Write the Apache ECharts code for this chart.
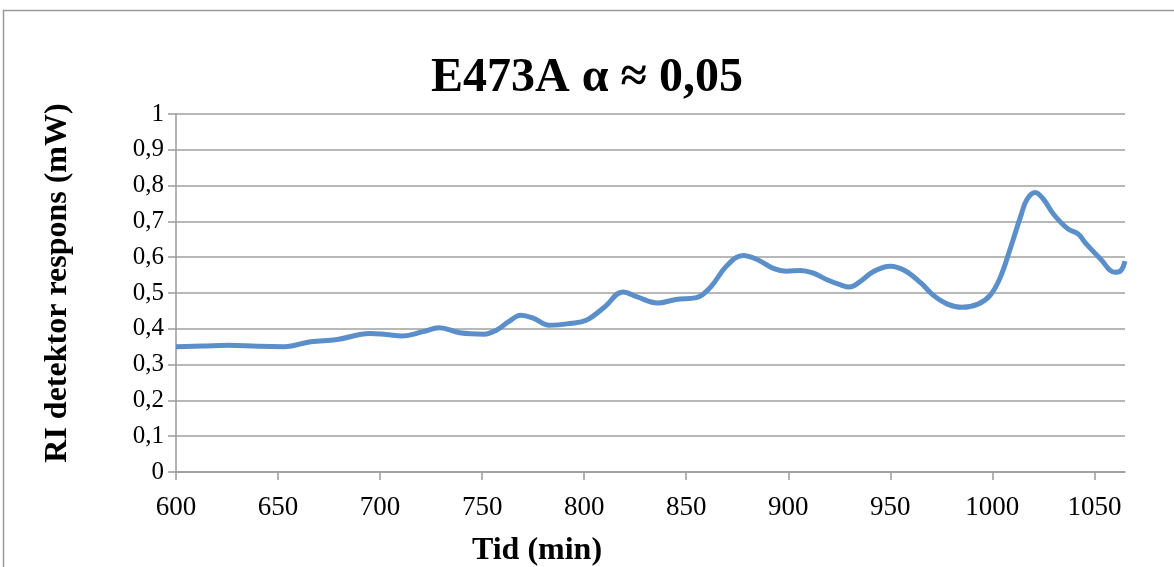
<!DOCTYPE html>
<html>
<head>
<meta charset="utf-8">
<script src="https://cdn.jsdelivr.net/npm/echarts@6/dist/echarts.min.js"></script>
<style>
html,body{margin:0;padding:0;background:#fff;}
#chart{width:1174px;height:567px;}
</style>
</head>
<body>
<div id="chart"></div>
<script>
const titleText = "E473A \u03b1 \u2248 0,05";
const xAxisName = "Tid (min)";
const yAxisName = "RI detektor respons (mW)";
const timeMin = [600, 613, 626, 640, 653, 666, 679, 695, 703, 711, 721, 729, 739, 751, 757, 763, 769, 775, 783, 793, 801, 810, 819, 826, 836, 845, 855, 862, 870, 878, 885, 893, 899, 906, 912, 919, 926, 930, 935, 942, 950, 957, 965, 971, 978, 985, 993, 999, 1004, 1009, 1014, 1017, 1021, 1025, 1030, 1037, 1042, 1046, 1053, 1060, 1063, 1065];
const response = [0.350, 0.352, 0.354, 0.351, 0.350, 0.364, 0.370, 0.387, 0.384, 0.380, 0.392, 0.403, 0.389, 0.385, 0.396, 0.420, 0.438, 0.430, 0.410, 0.415, 0.424, 0.461, 0.503, 0.489, 0.472, 0.482, 0.487, 0.517, 0.577, 0.605, 0.593, 0.568, 0.561, 0.563, 0.556, 0.537, 0.522, 0.517, 0.531, 0.561, 0.575, 0.563, 0.528, 0.494, 0.469, 0.460, 0.469, 0.494, 0.545, 0.628, 0.716, 0.762, 0.781, 0.762, 0.720, 0.679, 0.665, 0.637, 0.595, 0.558, 0.563, 0.589];

const seriesData = timeMin.map((t, i) => [t, response[i]]);
const serif = "Liberation Serif";
const chart = echarts.init(document.getElementById('chart'));
chart.setOption({
  animation: false,
  backgroundColor: '#ffffff',
  title: {
    text: titleText,
    left: 'center',
    top: 50,
    textStyle: {fontFamily: serif, fontSize: 48, fontWeight: 'bold', color: '#000'}
  },
  graphic: [{
    type: 'rect',
    shape: {x: 3.5, y: 10.5, width: 1300, height: 700},
    style: {fill: 'none', stroke: '#9a9a9a', lineWidth: 1.5},
    silent: true
  }, {
    type: 'text',
    x: 537, y: 551,
    style: {text: xAxisName, fontFamily: serif, fontSize: 32, fontWeight: 'bold', fill: '#000',
      align: 'center', verticalAlign: 'middle'},
    silent: true
  }, {
    type: 'text',
    x: 58, y: 283,
    rotation: Math.PI / 2,
    style: {text: yAxisName, fontFamily: serif, fontSize: 32, fontWeight: 'bold', fill: '#000',
      align: 'center', verticalAlign: 'middle'},
    silent: true
  }],
  grid: {left: 176, right: 49, top: 114, bottom: 95, containLabel: false},
  xAxis: {
    type: 'value',
    min: 600, max: 1065, interval: 50,
    axisLine: {show: true, lineStyle: {color: '#9a9a9a', width: 1.5}},
    axisTick: {show: true, inside: false, length: 8, lineStyle: {color: '#9a9a9a', width: 1.5}},
    axisLabel: {fontFamily: serif, fontSize: 27, color: '#000', margin: 22, showMaxLabel: false,
      formatter: v => String(v)},
    splitLine: {show: false}
  },
  yAxis: {
    type: 'value',
    min: 0, max: 1, interval: 0.1,
    axisLine: {show: true, lineStyle: {color: '#9a9a9a', width: 1.5}},
    axisTick: {show: true, inside: false, length: 8, lineStyle: {color: '#9a9a9a', width: 1.5}},
    axisLabel: {
      fontFamily: serif, fontSize: 25, color: '#000', margin: 12,
      formatter: v => String(Math.round(v * 10) / 10).replace('.', ',')
    },
    splitLine: {show: true, lineStyle: {color: '#a0a0a0', width: 1.5}}
  },
  series: [{
    type: 'line',
    data: seriesData,
    smooth: 0.4,
    showSymbol: false,
    lineStyle: {color: '#5b8fc9', width: 5},
    itemStyle: {color: '#5b8fc9'},
    clip: true
  }]
});
</script>
</body>
</html>
